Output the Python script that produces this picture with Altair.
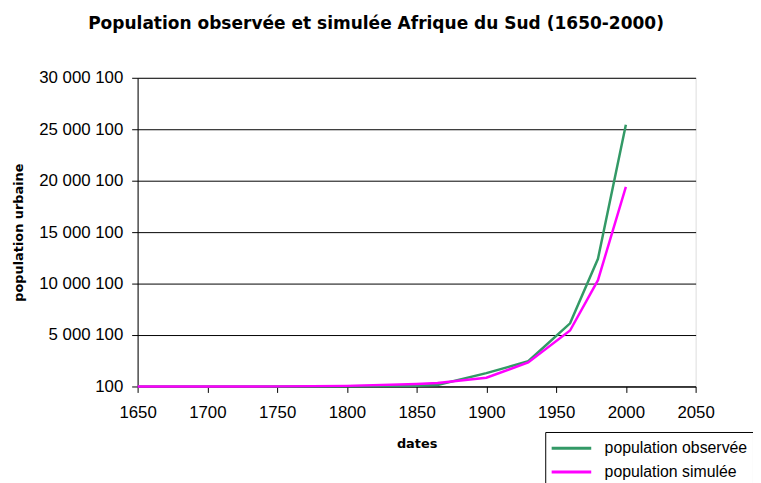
import altair as alt
import pandas as pd

# ---- data ----
years = [1650, 1700, 1750, 1800, 1850, 1865, 1900, 1930, 1960, 1980, 2000]
observed = [100, 100, 1000, 15000, 80000, 150000, 1300000, 2450000, 6140000, 12410000, 25430000]
simulated = [100, 1000, 10000, 60000, 250000, 330000, 850000, 2340000, 5440000, 10330000, 19400000]

series_names = ["population observée", "population simulée"]
series_colors = ["#339966", "#FF00FF"]

x_ticks = [1650, 1700, 1750, 1800, 1850, 1900, 1950, 2000, 2050]
y_ticks = [100, 5000100, 10000100, 15000100, 20000100, 25000100, 30000100]

df = pd.DataFrame({
    "dates": years + years,
    "population": observed + simulated,
    "serie": [series_names[0]] * len(years) + [series_names[1]] * len(years),
})

label_font = "Liberation Sans"
bold_font = "DejaVu Sans"

chart = alt.Chart(df).mark_line(strokeWidth=2.5).encode(
    x=alt.X(
        "dates:Q",
        scale=alt.Scale(domain=[x_ticks[0], x_ticks[-1]], nice=False, zero=False),
        axis=alt.Axis(
            values=x_ticks, format="d", title="dates", grid=False,
            domainColor="black", tickColor="black", tickSize=6,
            labelFont=label_font, labelFontSize=17, labelColor="black",
            labelPadding=12, labelFlush=False, labelOverlap=False,
            titleFont=bold_font, titleFontSize=13, titleFontWeight="bold",
            titleColor="black", titleBaseline="alphabetic", titleY=62,
        ),
    ),
    y=alt.Y(
        "population:Q",
        scale=alt.Scale(domain=[y_ticks[0], y_ticks[-1]], nice=False, zero=False),
        axis=alt.Axis(
            values=y_ticks,
            labelExpr="replace(replace(format(datum.value, ','), ',', ' '), ',', ' ')",
            title="population urbaine", grid=True, gridColor="black", gridWidth=1,
            gridOpacity=1,
            domainColor="black", tickColor="black", tickSize=6,
            labelFont=label_font, labelFontSize=17, labelColor="black",
            labelPadding=9, labelFlush=False, labelOverlap=False,
            titleFont=bold_font, titleFontSize=13, titleFontWeight="bold",
            titleColor="black", titleAngle=-90, titleBaseline="middle",
            titleX=-120, titleY=156,
        ),
    ),
    color=alt.Color(
        "serie:N",
        scale=alt.Scale(domain=series_names, range=series_colors),
        legend=alt.Legend(
            title=None, orient="none", legendX=412, legendY=358,
            symbolType="M-2,0L2,0", symbolSize=400, symbolStrokeWidth=3,
            symbolOffset=10,
            labelFont=label_font, labelFontSize=16, labelColor="black",
            labelOffset=22, rowPadding=4, padding=5,
            strokeColor="black", fillColor="white", cornerRadius=0,
            labelLimit=300,
        ),
    ),
).properties(
    width=564,
    height=312,
    title=alt.TitleParams(
        text="Population observée et simulée Afrique du Sud (1650-2000)",
        font=bold_font, fontSize=17.2, fontWeight="bold", color="black",
        anchor="middle", frame="group", dx=-41, dy=-33,
    ),
    autosize=alt.AutoSizeParams(type="none"),
    padding={"left": 131, "top": 68, "right": 58, "bottom": 95},
).configure_view(
    fill="#C0C0C0", stroke="#808080", strokeWidth=1,
).configure(background="white")

chart.save("out.html", embed_options={"renderer": "svg", "actions": False})
